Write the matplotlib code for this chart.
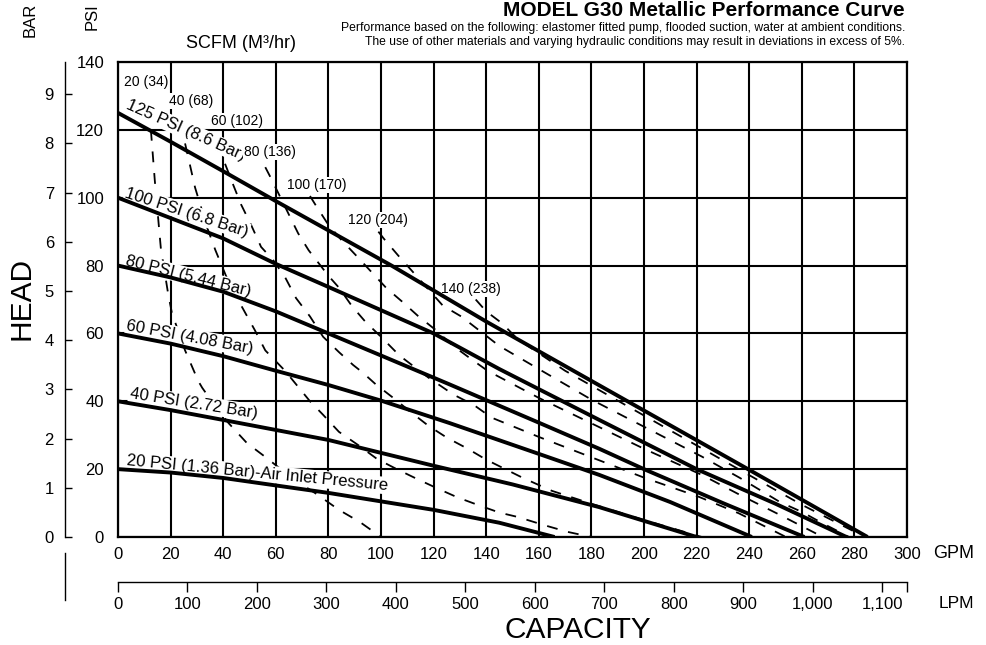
import matplotlib
matplotlib.use('Agg')
import matplotlib.pyplot as plt
from matplotlib.lines import Line2D

plt.rcParams['font.family'] = ['Liberation Sans', 'DejaVu Sans']

# air inlet pressure curves: capacity (GPM) vs head (PSI)
p125_gpm = [0, 20, 40, 60, 104, 140, 183, 240, 285]
p125_psi = [125, 116.5, 107.8, 99, 80, 63.5, 44.7, 19.8, 0]
p100_gpm = [0, 20, 40, 60, 80, 120, 145, 183, 220, 250, 277]
p100_psi = [100, 94, 88, 80.5, 73.7, 60, 49.5, 34.5, 20, 9.8, 0]
p80_gpm = [0, 20, 40, 60, 80, 100, 126, 160, 183, 200, 230, 261]
p80_psi = [80, 76.5, 72.3, 66.5, 60, 53.5, 45, 33.7, 26, 20, 10, 0]
p60_gpm = [0, 20, 40, 60, 80, 100, 126, 160, 183, 210, 241]
p60_psi = [60, 57, 53.3, 49, 44.8, 40.2, 33.6, 24.5, 18.3, 10.3, 0]
p40_gpm = [0, 20, 40, 80, 120, 150, 183, 220]
p40_psi = [40, 37.4, 34.5, 28.6, 21, 15.5, 8.8, 0]
p20_gpm = [0, 20, 40, 80, 120, 145, 166]
p20_psi = [20, 19, 17.4, 13, 8, 4.2, 0]

# air consumption curves (SCFM)
s20_gpm = [12.5, 14, 16.3, 19, 20.5, 25.5, 30.5, 32, 37, 42, 49, 56, 66, 76, 84, 92, 100]
s20_psi = [120, 105, 85, 72, 66, 55, 46, 44, 38.5, 33.6, 27.7, 23.6, 17.5, 12.4, 8, 4.4, 0]
s40_gpm = [25.5, 29.3, 34, 37, 43.7, 47, 52, 56, 63.5, 73, 78, 84, 91.5, 98.5, 106, 114,
           121.5, 129, 137, 145, 152, 162, 171, 180]
s40_psi = [116, 103, 91, 84.6, 72, 68, 61, 55, 49, 40, 36, 31, 27, 23, 20, 17,
           14.3, 11.7, 9.4, 7.2, 5.9, 3.5, 1.5, 0]
s60_gpm = [40.7, 43.7, 46.8, 50.6, 54.4, 59, 63.5, 67.7, 73, 78, 84, 89.4, 93, 98, 105,
           111.5, 118, 125, 133, 140, 154, 165, 180, 200, 222]
s60_psi = [110, 104, 98, 92, 85.5, 81.6, 76.6, 70.4, 65, 59, 54.5, 50.7, 48.5, 45, 40.8,
           36.7, 32.8, 29.3, 26, 22.8, 17.4, 13.6, 9.8, 5, 0]
s80_gpm = [56, 58, 65, 68.5, 72.5, 76.5, 80, 84, 89, 94, 100, 107, 118, 127.5, 135.5, 142,
           160, 180, 200, 221, 236, 254]
s80_psi = [109, 106, 95, 89.5, 84.5, 80.5, 77, 73.5, 68, 63.5, 59, 53.5, 47, 42, 38.8, 35.2,
           29.5, 23.5, 17.5, 11.8, 7, 0]
s100_gpm = [73, 75, 80, 85, 90.5, 96.5, 102, 108, 114, 120.5, 127.5, 134, 140.5, 160, 180,
            200, 222, 236.5, 251.7, 268]
s100_psi = [100.5, 98, 92, 87.5, 83, 78, 73.4, 69.4, 65.2, 61.2, 56.3, 52.6, 49, 41, 33.5,
            26, 18.3, 12.4, 6.5, 0]
s120_gpm = [99, 101, 106.5, 112.5, 118, 123.5, 130.5, 145, 160, 180, 200, 222, 236.5, 251.7,
            260, 268, 278]
s120_psi = [90, 88, 83, 77.8, 73, 68.2, 65, 56.3, 49.5, 40.5, 32.5, 23.7, 17.4, 10.3,
            7.4, 4, 0]
s140_gpm = [136, 140, 146, 152, 170, 200, 230, 260, 284]
s140_psi = [70, 66.5, 63, 58.3, 49, 35.8, 22.6, 9.5, 0]

pressure_labels = ['125 PSI (8.6 Bar)', '100 PSI (6.8 Bar)', '80 PSI (5.44 Bar)',
                   '60 PSI (4.08 Bar)', '40 PSI (2.72 Bar)',
                   '20 PSI (1.36 Bar)-Air Inlet Pressure']
scfm_labels = ['20 (34)', '40 (68)', '60 (102)', '80 (136)', '100 (170)', '120 (204)', '140 (238)']

gpm_ticks = list(range(0, 301, 20))
psi_ticks = list(range(0, 141, 20))
bar_ticks = list(range(0, 10))
lpm_ticks = list(range(0, 1101, 100))

fig = plt.figure(figsize=(9.87, 6.45), dpi=100)
L, B = 118 / 987, 1 - 537 / 645
W, H = (907 - 118) / 987, (537 - 62) / 645
ax = fig.add_axes([L, B, W, H])
ax.set_xlim(0, 300)
ax.set_ylim(0, 140)
ax.set_xticks(gpm_ticks)
ax.set_yticks(psi_ticks)
ax.tick_params(length=0, labelsize=12)
ax.tick_params(axis='y', pad=10)
ax.tick_params(axis='x', pad=7)
ax.set_axisbelow(True)
ax.grid(True, color='black', lw=1.5)
for s in ax.spines.values():
    s.set_linewidth(1.6)

solid = [(p125_gpm, p125_psi), (p100_gpm, p100_psi), (p80_gpm, p80_psi),
         (p60_gpm, p60_psi), (p40_gpm, p40_psi), (p20_gpm, p20_psi)]
for g, p in solid:
    ax.plot(g, p, color='black', lw=2.8, zorder=5, solid_capstyle='butt')

dashed = [(s20_gpm, s20_psi), (s40_gpm, s40_psi), (s60_gpm, s60_psi), (s80_gpm, s80_psi),
          (s100_gpm, s100_psi), (s120_gpm, s120_psi), (s140_gpm, s140_psi)]
for g, p in dashed:
    ax.plot(g, p, color='black', lw=1.3, ls=(0, (6, 6)), zorder=2)

box = dict(facecolor='white', edgecolor='none', pad=0.8)
# pressure curve labels: (gpm, psi, rotation)
plab_pos = [(2.7, 126.4, -24), (2.3, 100.3, -18), (2.7, 80.2, -14),
            (3.0, 61.0, -10.5), (4.2, 41.0, -9), (3.0, 21.2, -5.5)]
for txt, (x, y, r) in zip(pressure_labels, plab_pos):
    ax.text(x, y, txt, fontsize=12, rotation=r, rotation_mode='anchor',
            ha='left', va='baseline', bbox=box, zorder=4)

slab_pos = [(10.6, 134.1), (27.8, 128.5), (45.2, 122.6), (57.8, 113.5),
            (75.7, 103.7), (98.9, 93.4), (134.0, 73.1)]
for txt, (x, y) in zip(scfm_labels, slab_pos):
    ax.text(x, y, txt, fontsize=10, ha='center', va='center', bbox=box, zorder=4)

# LPM scale
ax2 = fig.add_axes([L, 1 - 582 / 645, W, 1e-6])
ax2.set_xlim(0, 300 * 3.78541)
ax2.patch.set_visible(False)
for s in ['top', 'left', 'right']:
    ax2.spines[s].set_visible(False)
ax2.spines['bottom'].set_linewidth(1.0)
ax2.set_yticks([])
ax2.set_xticks(lpm_ticks + [300 * 3.78541])
ax2.set_xticklabels([f'{v:,}' for v in lpm_ticks] + [''])
ax2.tick_params(axis='x', direction='out', length=7, width=1.0, labelsize=12, pad=4)

# BAR scale
ax3 = fig.add_axes([65 / 987, B, 1e-6, H])
ax3.set_ylim(0, 140 / 14.5038)
ax3.patch.set_visible(False)
for s in ['top', 'bottom', 'right']:
    ax3.spines[s].set_visible(False)
ax3.spines['left'].set_linewidth(1.0)
ax3.set_xticks([])
ax3.set_yticks(bar_ticks)
ax3.tick_params(axis='y', direction='in', length=5, width=1.0, labelsize=12, pad=8)
fig.add_artist(Line2D([65 / 987] * 2, [1 - 553 / 645, 1 - 600 / 645],
                      transform=fig.transFigure, color='black', lw=1.0))

# texts
fig.text(22 / 987, 1 - 298 / 645, 'HEAD', rotation=90, fontsize=21.5, ha='center', va='center')
fig.text(578 / 987, 1 - 630 / 645, 'CAPACITY', fontsize=21.5, ha='center', va='center')
fig.text(30 / 987, 1 - 20 / 645, 'BAR', rotation=90, fontsize=12, ha='center', va='center')
fig.text(92 / 987, 1 - 17 / 645, 'PSI', rotation=90, fontsize=12, ha='center', va='center')
fig.text(186 / 987, 1 - 44 / 645, 'SCFM (M³/hr)', fontsize=13, ha='left', va='center')
fig.text(933 / 987, 1 - 554 / 645, 'GPM', fontsize=13, ha='left', va='center')
fig.text(939 / 987, 1 - 603 / 645, 'LPM', fontsize=12.5, ha='left', va='center')
fig.text(905 / 987, 1 - 10 / 645, 'MODEL G30 Metallic Performance Curve',
         fontsize=15, fontweight='bold', ha='right', va='center')
fig.text(905 / 987, 1 - 28 / 645,
         'Performance based on the following: elastomer fitted pump, flooded suction, '
         'water at ambient conditions.', fontsize=8.7, ha='right', va='center')
fig.text(905 / 987, 1 - 42 / 645,
         'The use of other materials and varying hydraulic conditions may result in '
         'deviations in excess of 5%.', fontsize=8.7, ha='right', va='center')

fig.savefig('out.png', dpi=100)
